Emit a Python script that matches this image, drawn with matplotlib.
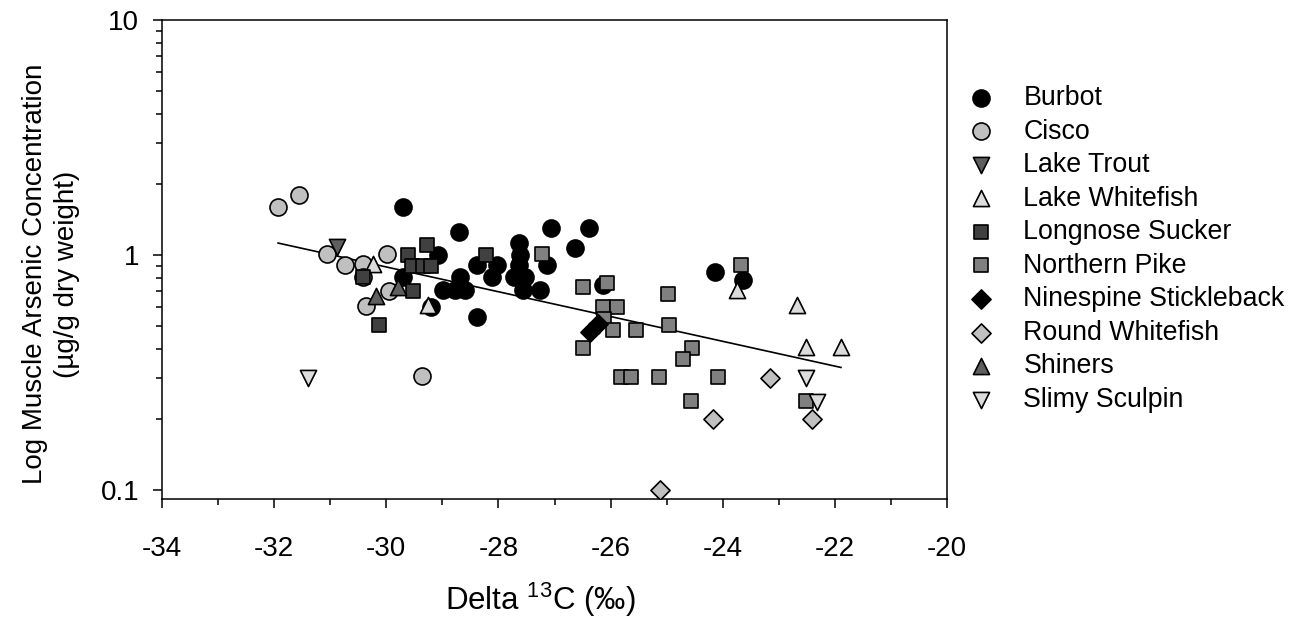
import numpy as np
import matplotlib
matplotlib.use("Agg")
import matplotlib.pyplot as plt
from matplotlib.ticker import MultipleLocator, LogLocator, NullFormatter

plt.rcParams['font.family'] = ['Liberation Sans', 'DejaVu Sans']
plt.rcParams['mathtext.fontset'] = 'custom'
plt.rcParams['mathtext.rm'] = 'Liberation Sans'
plt.rcParams['mathtext.default'] = 'regular'

# ---- data (delta 13C, arsenic ug/g) ----
burbot_x = [-29.71, -29.71, -29.21, -29.07, -28.98, -28.77, -28.59, -28.71, -28.68, -28.38,
            -28.38, -28.11, -28.02, -27.64, -27.61, -27.64, -27.73, -27.52, -27.57, -27.25,
            -27.14, -27.07, -26.63, -26.38, -26.13, -24.14, -23.63]
burbot_y = [1.60, 0.806, 0.60, 1.0, 0.71, 0.71, 0.71, 1.25, 0.806, 0.907,
            0.545, 0.806, 0.907, 1.125, 1.0, 0.907, 0.806, 0.806, 0.71, 0.71,
            0.907, 1.30, 1.07, 1.30, 0.745, 0.846, 0.783]

cisco_x = [-31.93, -31.55, -31.05, -30.73, -30.41, -30.41, -30.36, -29.98, -29.96, -29.36]
cisco_y = [1.60, 1.80, 1.01, 0.906, 0.915, 0.806, 0.606, 1.01, 0.703, 0.306]

laketrout_x = [-30.88]
laketrout_y = [1.08]

lakewhitefish_x = [-30.23, -29.25, -23.75, -22.68, -22.52, -21.89]
lakewhitefish_y = [0.92, 0.61, 0.71, 0.61, 0.406, 0.406]

longnose_x = [-30.41, -29.61, -29.27, -29.54, -29.34, -29.21, -29.52, -30.125, -28.23]
longnose_y = [0.806, 1.0, 1.10, 0.898, 0.898, 0.898, 0.703, 0.504, 1.0]

pike_x = [-27.23, -23.68, -26.5, -26.07, -24.98, -26.14, -25.89, -26.11, -25.96, -25.55,
          -24.95, -26.5, -24.54, -24.71, -25.82, -25.64, -25.13, -24.09, -24.57, -22.52]
pike_y = [1.01, 0.906, 0.731, 0.76, 0.683, 0.60, 0.60, 0.534, 0.48, 0.48,
          0.504, 0.402, 0.402, 0.361, 0.303, 0.303, 0.303, 0.303, 0.239, 0.239]

ninespine_x = [-26.37, -26.23]
ninespine_y = [0.47, 0.51]

roundwhitefish_x = [-23.16, -24.18, -22.41, -25.11]
roundwhitefish_y = [0.30, 0.20, 0.20, 0.10]

shiners_x = [-30.18, -29.80]
shiners_y = [0.669, 0.731]

sculpin_x = [-31.39, -22.52, -22.32]
sculpin_y = [0.30, 0.30, 0.236]

species = ["Burbot", "Cisco", "Lake Trout", "Lake Whitefish", "Longnose Sucker",
           "Northern Pike", "Ninespine Stickleback", "Round Whitefish", "Shiners", "Slimy Sculpin"]
xs = [burbot_x, cisco_x, laketrout_x, lakewhitefish_x, longnose_x, pike_x,
      ninespine_x, roundwhitefish_x, shiners_x, sculpin_x]
ys = [burbot_y, cisco_y, laketrout_y, lakewhitefish_y, longnose_y, pike_y,
      ninespine_y, roundwhitefish_y, shiners_y, sculpin_y]
markers = ['o', 'o', 'v', '^', 's', 's', 'D', 'D', '^', 'v']
colors = ['#000000', '#c0c0c0', '#5f5f5f', '#dcdcdc', '#404040', '#808080',
          '#000000', '#c0c0c0', '#5f5f5f', '#dcdcdc']
sizes = [150, 150, 135, 135, 115, 115, 95, 95, 135, 135]

x_ticks = [-34, -32, -30, -28, -26, -24, -22, -20]
y_ticks = [0.1, 1, 10]
y_ticklabels = ['0.1', '1', '10']

fig = plt.figure(figsize=(13.02, 6.17), dpi=100)
ax = fig.add_axes([162/1302, 1 - 499/617, (947 - 162)/1302, (499 - 20)/617])

for sx, sy, m, c, s, lab in zip(xs, ys, markers, colors, sizes, species):
    ax.scatter(sx, sy, marker=m, s=s, c=c, edgecolors='black', linewidths=1.2,
               label=lab, zorder=3)

# regression line on log scale over all points
allx = np.concatenate([np.asarray(v, float) for v in xs])
ally = np.concatenate([np.asarray(v, float) for v in ys])
b, a = np.polyfit(allx, np.log10(ally), 1)
lx = np.array([allx.min(), allx.max()])
ax.plot(lx, 10 ** (a + b * lx), color='black', lw=1.2, zorder=2)

ax.set_yscale('log')
ax.set_xlim(-34, -20)
ax.set_ylim(0.0916, 10)
ax.set_xticks(x_ticks)
ax.set_xticklabels([str(t) for t in x_ticks])
ax.xaxis.set_minor_locator(MultipleLocator(1))
ax.set_yticks(y_ticks)
ax.set_yticklabels(y_ticklabels)
ax.yaxis.set_minor_locator(LogLocator(base=10, subs=np.arange(2, 10)))
ax.yaxis.set_minor_formatter(NullFormatter())

ax.tick_params(which='both', direction='out', width=1.1, labelsize=20,
               top=False, right=False)
ax.tick_params(which='major', length=6.5)
ax.tick_params(which='minor', length=4.3)
ax.tick_params(axis='x', which='major', pad=20)
ax.tick_params(axis='y', which='major', pad=10)
for sp in ax.spines.values():
    sp.set_linewidth(1.1)

ax.set_xlabel('Delta $^{13}$C (‰)', fontsize=22.5)
ax.xaxis.set_label_coords((540 - 162) / 785, (499 - 581) / 479)
ax.set_ylabel('Log Muscle Arsenic Concentration\n(µg/g dry weight)', fontsize=20,
              linespacing=1.3)
ax.yaxis.set_label_coords((80 - 162) / 785, (499 - 274) / 479)

leg = ax.legend(loc='upper left', bbox_to_anchor=(968.5 / 1302, 1 - 85 / 617),
                bbox_transform=fig.transFigure, frameon=False, fontsize=19.3,
                borderpad=0, borderaxespad=0, handlelength=0.93,
                handletextpad=1.12, labelspacing=0.28, scatterpoints=1)

fig.savefig('out.png', dpi=100)
